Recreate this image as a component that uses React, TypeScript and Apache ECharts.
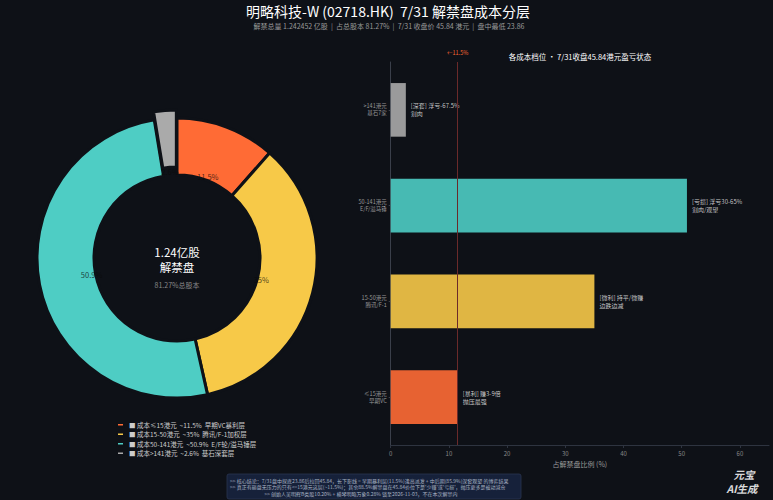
import React, { useEffect, useRef } from "react";
import * as echarts from "echarts";

const tierNames = ["成本≤15港元", "成本15-50港元", "成本50-141港元", "成本>141港元"];
const tierShares = [11.5, 35, 50.9, 2.6];
const tierShareLabels = ["11.5%", "35%", "50.9%", "2.6%"];
const tierDesc = ["早期VC暴利层", "腾讯/F-1加权层", "E/F轮/溢马锤层", "基石深套层"];
const tierColors = ["#FF6B35", "#F7C948", "#4ECDC4", "#AAAAAA"];
const barCategories = ["≤15港元\n早期VC", "15-50港元\n腾讯/F-1", "50-141港元\nE/F/溢马锤", ">141港元\n基石7家"];
const barNotes = ["[暴利] 赚3-9倍\n抛压最强", "[微利] 持平/微赚\n边跌边减", "[亏损] 浮亏30-65%\n割肉/观望", "[深套] 浮亏-67.5%\n割肉"];
const closeLineValue = 11.5;
const xTicks = { min: 0, max: 65, interval: 10 };

const BG = "#0E1117";
const FONT = "'Noto Sans CJK SC', 'Noto Sans', sans-serif";

export default function App() {
  const ref = useRef<HTMLDivElement>(null);
  useEffect(() => {
    document.body.style.margin = "0";
    const chart = echarts.init(ref.current!, null, { renderer: "svg" });
    const pieData = tierNames.map((n, i) => ({
      name: n,
      value: tierShares[i],
      selected: i === 3,
      itemStyle: { color: tierColors[i] },
    }));
    const txt = (text: string, x: number, y: number, fontSize: number, fill: string, align = "center", extra: any = {}) => ({
      type: "text",
      x,
      y,
      style: {
        text,
        fill,
        fontSize,
        fontFamily: FONT,
        textAlign: align,
        textVerticalAlign: "middle",
        ...extra,
      },
    });
    chart.setOption({
      animation: false,
      backgroundColor: BG,
      textStyle: { fontFamily: FONT },
      legend: {
        orient: "vertical",
        left: 116,
        top: 421,
        padding: 0,
        icon: "roundRect",
        itemWidth: 7,
        itemHeight: 3.5,
        itemGap: 2,
        data: tierNames,
        textStyle: { color: "#cccccc", fontSize: 6.5, lineHeight: 7.5, fontFamily: FONT },
        formatter: (name: string) => {
          const i = tierNames.indexOf(name);
          return `■ ${name}  ~${tierShares[i]}%  ${tierDesc[i]}`;
        },
      },
      grid: { left: 390.7, right: 4, top: 62, height: 383 },
      xAxis: {
        type: "value",
        min: xTicks.min,
        max: xTicks.max,
        interval: xTicks.interval,
        name: "占解禁盘比例 (%)",
        nameLocation: "middle",
        nameGap: 13,
        nameTextStyle: { color: "#999999", fontSize: 7 },
        axisLabel: { color: "#888888", fontSize: 6, showMaxLabel: false, margin: 5 },
        axisLine: { show: true, lineStyle: { color: "#2e3440" } },
        axisTick: { show: true, length: 3, lineStyle: { color: "#2e3440" } },
        splitLine: { show: false },
      },
      yAxis: {
        type: "category",
        data: barCategories,
        axisLabel: { color: "#999999", fontSize: 5.5, lineHeight: 7, margin: 4 },
        axisLine: { show: true, lineStyle: { color: "#3a3f4a" } },
        axisTick: { show: true, length: 2, alignWithLabel: true, lineStyle: { color: "#3a3f4a" } },
      },
      series: [
        {
          type: "pie",
          center: [177, 258],
          radius: [83, 140],
          startAngle: 90,
          clockwise: true,
          selectedMode: "single",
          selectedOffset: 8,
          silent: true,
          label: { show: false },
          labelLine: { show: false },
          itemStyle: { borderColor: BG, borderWidth: 3 },
          data: pieData,
        },
        {
          type: "pie",
          center: [177, 258],
          radius: [0, 168],
          startAngle: 90,
          clockwise: true,
          silent: true,
          z: 3,
          legendHoverLink: false,
          itemStyle: { color: "rgba(0,0,0,0)" },
          label: {
            show: true,
            position: "inside",
            color: "rgba(10,10,10,0.75)",
            fontSize: 7.5,
            formatter: (p: any) => tierShareLabels[p.dataIndex],
          },
          labelLine: { show: false },
          data: tierShares.map((v, i) => ({ name: "g" + i, value: v })),
        },
        {
          type: "bar",
          barWidth: "56%",
          data: tierShares.map((v, i) => ({
            value: v,
            itemStyle: { color: tierColors[i], opacity: 0.9 },
          })),
          label: {
            show: true,
            position: "right",
            distance: 5,
            color: "#dddddd",
            fontSize: 6,
            lineHeight: 8,
            align: "left",
            formatter: (p: any) => barNotes[p.dataIndex],
          },
          markLine: {
            silent: true,
            symbol: "none",
            lineStyle: { color: "#6b2a2a", width: 1, type: "solid" },
            label: {
              show: true,
              position: "end",
              formatter: "←11.5%",
              color: "#ff6b35",
              fontSize: 5.5,
              distance: 6,
            },
            data: [{ xAxis: closeLineValue }],
          },
        },
      ],
      graphic: [
        txt("明略科技-W (02718.HK)  7/31 解禁盘成本分层", 388, 11, 14, "#ffffff"),
        txt("解禁总量 1.242452 亿股  |  占总股本 81.27%  |  7/31 收盘价 45.84 港元  |  盘中最低 23.86", 389, 26, 7, "#999999"),
        txt("各成本档位 · 7/31收盘45.84港元盈亏状态", 580, 56, 7.5, "#ffffff"),
        txt("1.24亿股", 177, 251.5, 11.5, "#ffffff"),
        txt("解禁盘", 177, 267, 11.5, "#ffffff"),
        txt("81.27%总股本", 177, 285, 7, "#888888"),
        {
          type: "rect",
          shape: { x: 227, y: 474, width: 294, height: 25, r: 2 },
          style: { fill: "#16213a", stroke: "#2a3550", lineWidth: 0.8 },
        },
        txt(
          ">> 核心结论：7/31盘中探底23.86后拉回45.84，长下影线 = 早期暴利层(11.5%)逢高派发 + 中后期(85.9%)深套观望 的博弈结果",
          230, 480, 5, "#aab4c4", "left"
        ),
        txt(
          ">> 真正有砸盘无压力的只有<=15港元这层(~11.5%)；其余88.5%解禁盘在45.84价位下是'少赚'或'亏损'，抛压更多是被动减仓",
          230, 486.5, 5, "#aab4c4", "left"
        ),
        txt(
          ">> 创始人吴明辉B类股10.20% + 横琴明略万象0.28% 锁至2026-11-03，不在本次解禁内",
          361, 493, 5, "#aab4c4", "center"
        ),
        txt("元宝", 744, 474, 10.5, "rgba(255,255,255,0.85)", "center", { fontWeight: "bold", fontStyle: "italic" }),
        txt("AI生成", 742, 488.5, 10.5, "rgba(255,255,255,0.85)", "center", { fontWeight: "bold", fontStyle: "italic" }),
      ],
    });
    return () => chart.dispose();
  }, []);
  return (
    <div
      ref={ref}
      style={{ position: "fixed", left: 0, top: 0, width: 773, height: 500, background: BG }}
    />
  );
}
